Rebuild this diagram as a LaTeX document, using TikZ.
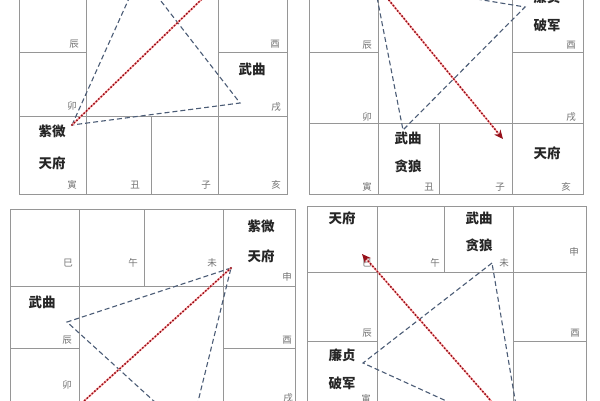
\documentclass[tikz,border=0pt]{standalone}
\usepackage{fontspec}
\newfontfamily\cjk{Noto Sans CJK SC}
\usetikzlibrary{arrows.meta}

\definecolor{gridgray}{RGB}{150,150,150}
\definecolor{zhigray}{RGB}{115,115,115}
\definecolor{triblue}{RGB}{75,92,118}
\definecolor{flyred}{RGB}{150,15,25}

\begin{document}
\begin{tikzpicture}[x=1pt, y=-1pt,
  grid/.style={gridgray, line width=0.9pt},
  zhi/.style={text=zhigray, inner sep=0pt, font=\cjk\fontsize{9.5}{10}\selectfont},
  star/.style={text=black!85, inner sep=0pt, font=\cjk\bfseries\fontsize{13.5}{14}\selectfont},
  tri/.style={triblue, line width=1.1pt, dash pattern=on 5pt off 3pt},
  glow/.style={red!35, line width=1.6pt},
  fly/.style={flyred, line width=2.2pt, dash pattern=on 0pt off 3.4pt, line cap=round},
  flytip/.style={-{Stealth[length=9pt, width=8pt, fill=red!85!black, line cap=butt]}}]

\useasboundingbox (0,0) rectangle (600,400);
\fill [white] (0,0) rectangle (600,400);
\clip (0,0) rectangle (600,400);

% panel 1 (top left)
\draw [grid] (19,-20) -- (19,194) -- (287,194) -- (287,-20);
\draw [grid] (86,-20) -- (86,194);
\draw [grid] (218,-20) -- (218,194);
\draw [grid] (19,116) -- (287,116);
\draw [grid] (19,52) -- (86,52);
\draw [grid] (218,52) -- (287,52);
\draw [grid] (151,116) -- (151,194);

\node [zhi] (p1chen) at (74,44) {辰};
\node [zhi] (p1you)  at (275,44) {酉};
\node [zhi] (p1mao)  at (72,106) {卯};
\node [zhi] (p1xu)   at (276,107) {戌};
\node [zhi] (p1yin)  at (72,185) {寅};
\node [zhi] (p1chou) at (135,185) {丑};
\node [zhi] (p1zi)   at (206,185) {子};
\node [zhi] (p1hai)  at (276,185) {亥};

\node [star] (p1wq) at (252,69) {武曲};
\node [star] (p1zw) at (52,131) {紫微};
\node [star] (p1tf) at (52,163) {天府};

\coordinate (p1a) at (72,125);
\coordinate (p1b) at (140,-26);
\coordinate (p1c) at (240,103);
\coordinate (p1end) at (236,-34);
\draw [tri] (p1a) -- (p1b) -- (p1c) -- cycle;
\draw [glow] (p1a) -- (p1end);
\draw [fly] (p1a) -- (p1end);

% panel 2 (top right)
\draw [grid] (309,-20) -- (309,194) -- (583,194) -- (583,-20);
\draw [grid] (378,-20) -- (378,194);
\draw [grid] (512,-20) -- (512,194);
\draw [grid] (309,123) -- (583,123);
\draw [grid] (309,52) -- (378,52);
\draw [grid] (512,52) -- (583,52);
\draw [grid] (439,123) -- (439,194);

\node [zhi] (p2chen) at (367,45) {辰};
\node [zhi] (p2you)  at (571,45) {酉};
\node [zhi] (p2mao)  at (367,117) {卯};
\node [zhi] (p2xu)   at (571,117) {戌};
\node [zhi] (p2yin)  at (367,187) {寅};
\node [zhi] (p2chou) at (429,187) {丑};
\node [zhi] (p2zi)   at (500,187) {子};
\node [zhi] (p2hai)  at (566,187) {亥};

\node [star] (p2lz) at (547,-3) {廉贞};
\node [star] (p2pj) at (547,25) {破军};
\node [star] (p2wq) at (408,138) {武曲};
\node [star] (p2tl) at (408,166) {贪狼};
\node [star] (p2tf) at (547,153) {天府};

\coordinate (p2a) at (374,-18);
\coordinate (p2b) at (403,130);
\coordinate (p2c) at (525,7);
\coordinate (p2end) at (503,139);
\draw [tri] (p2a) -- (p2b) -- (p2c) -- cycle;
\draw [glow, shorten >=7pt] (p2a) -- (p2end);
\draw [fly, flytip] (p2a) -- (p2end);

% panel 3 (bottom left)
\draw [grid] (10,420) -- (10,209) -- (295,209) -- (295,420);
\draw [grid] (79,209) -- (79,420);
\draw [grid] (223,209) -- (223,420);
\draw [grid] (144,209) -- (144,286);
\draw [grid] (10,286) -- (295,286);
\draw [grid] (10,348) -- (79,348);
\draw [grid] (223,348) -- (295,348);

\node [zhi] (p3si)   at (68,263) {巳};
\node [zhi] (p3wu)   at (133,263) {午};
\node [zhi] (p3wei)  at (212,263) {未};
\node [zhi] (p3shen) at (287,277) {申};
\node [zhi] (p3chen) at (67,340) {辰};
\node [zhi] (p3you)  at (287,340) {酉};
\node [zhi] (p3mao)  at (67,385) {卯};
\node [zhi] (p3xu)   at (288,398) {戌};

\node [star] (p3zw) at (261,226) {紫微};
\node [star] (p3tf) at (261,256) {天府};
\node [star] (p3wq) at (42,302) {武曲};

\coordinate (p3a) at (231,268);
\coordinate (p3b) at (67,322);
\coordinate (p3c) at (190,434);
\coordinate (p3end) at (52,430);
\draw [tri] (p3a) -- (p3b) -- (p3c) -- cycle;
\draw [glow] (p3a) -- (p3end);
\draw [fly] (p3a) -- (p3end);

% panel 4 (bottom right)
\draw [grid] (307,420) -- (307,206) -- (586,206) -- (586,420);
\draw [grid] (377,206) -- (377,420);
\draw [grid] (513,206) -- (513,420);
\draw [grid] (444,206) -- (444,272);
\draw [grid] (307,272) -- (586,272);
\draw [grid] (307,341) -- (377,341);
\draw [grid] (513,341) -- (586,341);

\node [zhi] (p4si)   at (367,263) {巳};
\node [zhi] (p4wu)   at (435,263) {午};
\node [zhi] (p4wei)  at (504,263) {未};
\node [zhi] (p4shen) at (574,252) {申};
\node [zhi] (p4chen) at (367,333) {辰};
\node [zhi] (p4you)  at (575,333) {酉};
\node [zhi] (p4yin)  at (366,399) {寅};

\node [star] (p4tf) at (342,218) {天府};
\node [star] (p4wq) at (479,218) {武曲};
\node [star] (p4tl) at (479,245) {贪狼};
\node [star] (p4lz) at (342,355) {廉贞};
\node [star] (p4pj) at (342,383) {破军};

\coordinate (p4a) at (492,263);
\coordinate (p4b) at (363,363);
\coordinate (p4c) at (521,435);
\coordinate (p4end) at (362,254);
\draw [tri] (p4a) -- (p4b) -- (p4c) -- cycle;
\draw [glow, shorten >=7pt] (p4c) -- (p4end);
\draw [fly, flytip] (p4c) -- (p4end);

\end{tikzpicture}
\end{document}
